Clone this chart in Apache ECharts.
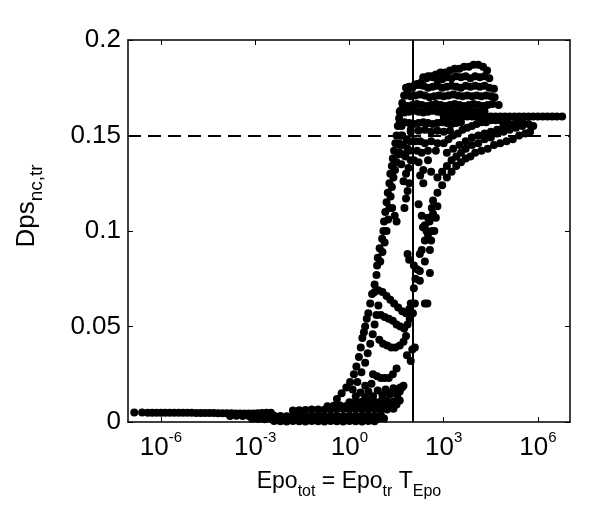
<!DOCTYPE html>
<html>
<head>
<meta charset="UTF-8">
<title>Dps vs Epo</title>
<script src="https://cdn.jsdelivr.net/npm/echarts@6.0.0/dist/echarts.min.js"></script>
<style>
  html, body {margin:0; padding:0; background:#fff}
  #chart {width:600px; height:520px}
</style>
</head>
<body>
<div id="chart"></div>
<script>
// x is log10(Epo_tot), y is Dps_nc,tr
var xTicks = [-6, -3, 0, 3, 6];
var yMin = 0, yMax = 0.2, yStep = 0.05;
var thresholdY = 0.15;      // dashed line
var thresholdX = 2;         // Epo_tot = 10^2, solid line

// flat tail at small Epo
var baseline = [
  [-6.85,.0050],[-6.6,.0050],[-6.42,.0049],[-6.28,.0049],[-6.14,.0049],[-6.0,.0049],[-5.86,.0049],
  [-5.72,.0048],[-5.58,.0048],[-5.44,.0048],[-5.3,.0048],[-5.16,.0048],[-5.02,.0048],[-4.88,.0047],
  [-4.74,.0047],[-4.6,.0047],[-4.46,.0047],[-4.32,.0047],[-4.18,.0046],[-4.04,.0046],[-3.9,.0046],
  [-3.76,.0046],[-3.62,.0045],[-3.48,.0045],[-3.34,.0045],[-3.2,.0045],[-3.06,.0045],[-2.92,.0046],
  [-2.78,.0047],[-2.64,.0048],[-2.5,.0049]
];

// thick band near zero before the rise
var lowBand = [
  [-3.8,.0032],[-3.6,.0033],[-3.4,.0031],[-3.2,.0032],[-3.0,.0030],[-2.8,.0032],[-2.6,.0031],[-2.4,.0033],
  [-2.2,.0032],[-2.0,.0030],[-1.8,.0032],[-1.6,.0033],[-1.4,.0031],[-1.2,.0032],[-1.0,.0034],[-0.8,.0031],
  [-0.6,.0033],[-0.4,.0032],[-0.2,.0030],[0.0,.0033],[0.2,.0032],[0.4,.0031],[0.6,.0034],[0.8,.0032],[1.0,.0035],
  [-3.1,.0017],[-2.9,.0016],[-2.7,.0015],[-2.5,.0017],[-2.3,.0016],[-2.1,.0014],[-1.9,.0016],[-1.7,.0017],
  [-1.5,.0015],[-1.3,.0016],[-1.1,.0017],[-0.9,.0015],[-0.7,.0016],[-0.5,.0014],[-0.3,.0016],[-0.1,.0017],
  [0.1,.0015],[0.3,.0016],[0.5,.0017],[0.7,.0015],[0.9,.0016],[1.1,.0018],
  [-2.4,.0005],[-2.2,.0004],[-2.0,.0003],[-1.8,.0005],[-1.6,.0004],[-1.4,.0003],[-1.2,.0005],[-1.0,.0004],
  [-0.8,.0003],[-0.6,.0005],[-0.4,.0004],[-0.2,.0003],[0.0,.0005],[0.2,.0004],[0.4,.0003],[0.6,.0005],[0.8,.0004],
  [-1.8,.0060],[-1.6,.0062],[-1.4,.0063],[-1.2,.0065],[-1.0,.0066],[-0.8,.0064],[-0.6,.0067],[-0.4,.0066],
  [-0.2,.0068],[0.0,.0065],[0.2,.0067],[0.4,.0066],[0.6,.0068],[0.8,.0065],[1.0,.0067],[1.2,.0066],[1.4,.0069],
  [-0.7,.0082],[-0.5,.0085],[-0.3,.0086],[-0.1,.0084],[0.1,.0087],[0.3,.0085],[0.5,.0088],[0.7,.0086],
  [0.9,.0084],[1.1,.0087],[1.3,.0088],[1.5,.0091],
  [0.0,.0104],[0.2,.0107],[0.4,.0106],[0.6,.0109],[0.8,.0105],[1.0,.0108],[1.2,.0110],[1.4,.0106],[1.6,.0112],
  [0.5,.013],[0.75,.0135],[1.05,.014],[1.3,.0145],[1.52,.014],[1.67,.018],[1.6,.016],[1.4,.0177],
  [0.2,.0135],[0.35,.0155],[0.6,.016],[0.9,.0165],[1.15,.017],[0.5,.019],[0.7,.020]
];

// steep rise left of the solid line
var riseMain = [
  [-0.4,.012],[-0.25,.015],[-0.1,.018],[0.02,.021],[0.14,.025],[0.22,.029],[0.3,.034],[0.36,.039],
  [0.41,.044],[0.46,.047],[0.5,.050],[0.55,.054],[0.6,.057],[0.66,.062],[0.72,.067],[0.8,.072],
  [0.86,.077],[0.88,.082],[0.9,.086],[0.96,.091],[1.04,.096],[1.08,.100],[1.1,.105],[1.14,.110],
  [1.18,.115],[1.22,.120],[1.27,.125],[1.3,.130],[1.35,.134],[1.38,.138],[1.42,.142],[1.46,.146],
  [1.5,.150],[1.54,.155],[1.58,.159],[1.62,.163],[1.68,.167],[1.74,.171],[1.8,.175],
  [0.1,.017],[0.25,.021],[0.38,.026],[0.5,.031],[0.58,.036],[0.66,.041],[0.74,.046],[0.8,.051],
  [0.86,.056],[0.92,.061],[1.36,.112],[1.44,.108],[1.5,.105],
  [0.98,.084],[1.05,.089],[1.12,.094],[1.18,.100],[1.23,.106],[1.27,.112],[1.31,.118],[1.35,.123],
  [1.4,.128],[1.45,.132],[1.5,.136],[1.55,.140],[1.6,.145],[1.64,.150],[1.66,.155]
];

// short branches running toward the solid line
var riseBranches = [
  [0.8,.068],[0.92,.069],[1.05,.068],[1.18,.066],[1.3,.064],[1.42,.062],[1.55,.060],[1.68,.058],[1.8,.057],[1.9,.059],[1.95,.062],
  [1.0,.056],[1.12,.055],[1.25,.054],[1.38,.053],[1.5,.051],[1.62,.050],[1.74,.049],[1.85,.051],[1.92,.054],
  [0.95,.043],[1.07,.041],[1.2,.040],[1.33,.039],[1.46,.039],[1.6,.040],[1.72,.042],[1.8,.045],
  [0.75,.025],[0.88,.024],[1.0,.023],[1.12,.023],[1.25,.023],[1.38,.025],[1.5,.028],
  [1.25,.015],[1.38,.016],[1.5,.017],[1.62,.018],[1.72,.019],
  [1.83,.035],[1.95,.032],[2.0,.038],[2.08,.039]
];

// points hugging the solid line
var nearLine = [
  [1.85,.088],[1.9,.085],[2.05,.082],[1.75,.112],[1.8,.117],[1.85,.121],[1.9,.125],[1.72,.126],
  [1.8,.130],[1.88,.133],[1.95,.137],[1.78,.139],[1.9,.142],[1.7,.145],[1.82,.148],[1.95,.152],
  [1.65,.135],[1.72,.140],[1.6,.141],[1.68,.150],[1.58,.146],[1.85,.143],[1.92,.147],
  [2.02,.057],[2.08,.062],[2.24,.074],[2.4,.062],[2.48,.062],[2.56,.078],[2.24,.079],[2.4,.084],
  [2.56,.090],[2.24,.088],[2.4,.095],[2.34,.102],[2.5,.107],[2.66,.109],[2.62,.100],
  [2.2,.114],[2.3,.108],[2.4,.103],[2.5,.098],[2.6,.095],[2.7,.100],[2.75,.107],[2.8,.113],
  [2.05,.070],[2.1,.075],[2.15,.080],[2.3,.090],[2.45,.100],[2.55,.105],[2.62,.112]
];

// slow rise right of the solid line
var rightRise = [
  [2.66,.116],[2.8,.120],[2.95,.124],[3.1,.128],[3.25,.131],[3.4,.134],[3.55,.136],[3.7,.138],
  [3.85,.139],[4.0,.141],[4.2,.142],[4.4,.143],[4.6,.145],[4.8,.146],[5.0,.147],[5.2,.148],
  [5.4,.150],[5.6,.151],[5.75,.152],
  [2.8,.128],[2.95,.131],[3.1,.134],[3.25,.137],[3.4,.139],[3.55,.141],[3.7,.143],[3.9,.145],
  [4.1,.146],[4.3,.148],[4.5,.149],[4.7,.151],[4.9,.152],[5.1,.153],[5.3,.154],[5.5,.155],
  [5.7,.156],[5.85,.155],
  [3.1,.141],[3.3,.143],[3.5,.145],[3.7,.147],[3.9,.149],[4.1,.150],[4.3,.151],[4.5,.152],
  [4.7,.153],[4.9,.155],[5.1,.156],[5.3,.157],[5.5,.158],
  [3.0,.146],[3.15,.148],[3.3,.150],[3.45,.151],[3.6,.153],[3.75,.154],[3.9,.155],[4.05,.156],
  [4.2,.157],[4.35,.157],[4.5,.158],[4.65,.158],[4.8,.158],[5.0,.158],
  [2.1,.147],[2.25,.147],[2.4,.146],[2.6,.147],[2.8,.146],[2.15,.142],[2.3,.141],[2.5,.142],
  [2.75,.142],[2.05,.137],[2.2,.136],[2.5,.137],[2.35,.132],[2.6,.131],[2.25,.129],[2.35,.125]
];

// upper cluster above the dashed line
var upperCluster = [
  [1.85,.172],[2.0,.175],[2.15,.177],[2.3,.178],[2.45,.180],[2.6,.181],[2.75,.182],[2.9,.183],
  [3.05,.183],[3.2,.184],[3.35,.185],[3.5,.185],[3.65,.186],[3.8,.186],[3.95,.187],[4.1,.187],
  [4.25,.186],[4.38,.184],
  [2.35,.1805],[2.5,.181],[2.65,.1805],[2.8,.179],[2.95,.1795],[3.1,.1805],[3.25,.180],[3.4,.181],
  [3.55,.1805],[3.7,.181],[3.85,.180],[4.0,.181],[4.15,.1805],[4.3,.181],[4.45,.180],
  [1.9,.1755],[2.05,.176],[2.2,.1765],[2.35,.176],[2.5,.175],[2.65,.1755],[2.8,.176],[2.95,.175],
  [3.1,.1755],[3.25,.176],[3.4,.1755],[3.55,.175],[3.7,.176],[3.85,.1755],[4.0,.176],[4.15,.1755],
  [4.3,.176],[4.45,.175],[4.6,.1745],
  [1.8,.171],[1.95,.1705],[2.1,.171],[2.25,.1715],[2.4,.171],[2.55,.170],[2.7,.1705],[2.85,.171],
  [3.0,.1705],[3.15,.171],[3.3,.1715],[3.45,.171],[3.6,.1705],[3.75,.171],[3.9,.1705],[4.05,.171],
  [4.2,.1705],[4.35,.171],[4.5,.1705],[4.62,.170],
  [1.7,.166],[1.85,.1655],[2.0,.166],[2.15,.1665],[2.3,.166],[2.45,.1655],[2.6,.166],[2.75,.1665],
  [2.9,.166],[3.05,.1655],[3.2,.166],[3.35,.1665],[3.5,.166],[3.65,.1655],[3.8,.166],[3.95,.1665],
  [4.1,.166],[4.25,.1655],[4.4,.166],[4.55,.1665],[4.75,.166],
  [1.6,.1625],[1.75,.162],[1.9,.1625],[2.05,.163],[2.2,.1625],[2.35,.162],[2.5,.1625],[2.65,.163],
  [2.8,.1625],[2.95,.162],[3.1,.1625],[3.25,.163],[3.4,.1625],[3.55,.162],[3.7,.1625],[3.85,.163],
  [4.0,.1625],[4.15,.162],[4.3,.1625],
  [1.6,.1565],[1.75,.157],[1.9,.1565],[2.05,.156],[2.2,.1565],[2.35,.157],[2.5,.1565],[2.65,.156],
  [2.8,.1565],[2.95,.157],[3.1,.1565],[3.25,.156],[3.4,.1565],[3.55,.157],
  [1.95,.153],[2.2,.1525],[2.4,.153],[2.6,.152],[2.8,.1525],[3.0,.152],[3.2,.1525]
];

// long flat run at the top right
var plateau = [
  [3.0,.160],[3.15,.160],[3.3,.160],[3.45,.160],[3.6,.160],[3.75,.160],[3.9,.160],[4.05,.160],
  [4.2,.160],[4.35,.160],[4.5,.160],[4.65,.160],[4.8,.160],[4.95,.160],[5.1,.160],[5.25,.160],
  [5.4,.160],[5.55,.160],[5.7,.160],[5.85,.160],[6.0,.160],[6.15,.160],[6.3,.160],[6.45,.160],
  [6.6,.160],[6.77,.160]
];

var groups = [baseline, lowBand, riseMain, riseBranches, nearLine, rightRise, upperCluster, plateau];

var FONT = '"Liberation Sans", Arial, Helvetica, sans-serif';

var chart = echarts.init(document.getElementById('chart'));

function dots(data) {
  return {
    type: 'scatter',
    data: data,
    symbol: 'circle',
    symbolSize: 8,
    itemStyle: {color: '#000', opacity: 1},
    silent: true
  };
}

var series = groups.map(dots);
series[0].markLine = {
  silent: true,
  symbol: 'none',
  label: {show: false},
  animation: false,
  data: [
    {yAxis: thresholdY, lineStyle: {color: '#000', width: 2.2, type: [13, 7]}},
    {xAxis: thresholdX, lineStyle: {color: '#000', width: 2, type: 'solid'}}
  ]
};

var axisLineStyle = {show: true, onZero: false, lineStyle: {color: '#000', width: 1.5}};

var option = {
  backgroundColor: '#fff',
  animation: false,
  grid: {left: 128, right: 30, top: 40, bottom: 98, containLabel: false},
  xAxis: [{
    type: 'value',
    min: -7.05,
    max: 7.02,
    axisLine: axisLineStyle,
    splitLine: {show: false},
    axisTick: {inside: true, length: 5, customValues: xTicks, lineStyle: {color: '#000', width: 1}},
    axisLabel: {
      customValues: xTicks,
      margin: 8,
      formatter: function (v) { return '{b|10}{s|' + v + '}'; },
      rich: {
        b: {fontSize: 26, fontFamily: FONT, color: '#000', lineHeight: 36},
        s: {fontSize: 15, fontFamily: FONT, color: '#000', lineHeight: 14, verticalAlign: 'top'}
      }
    },
    name: '{m|Epo}{u|tot}{m| = Epo}{u|tr}{m| T}{u|Epo}',
    nameLocation: 'middle',
    nameGap: 48,
    nameTextStyle: {
      rich: {
        m: {fontSize: 23, fontFamily: FONT, color: '#000', lineHeight: 16, verticalAlign: 'top'},
        u: {fontSize: 16, fontFamily: FONT, color: '#000', lineHeight: 44}
      }
    }
  }, {
    type: 'value',
    position: 'top',
    min: -7.05,
    max: 7.02,
    axisLine: axisLineStyle,
    splitLine: {show: false},
    axisTick: {inside: true, length: 5, customValues: xTicks, lineStyle: {color: '#000', width: 1}},
    axisLabel: {show: false}
  }],
  yAxis: [{
    type: 'value',
    min: yMin,
    max: yMax,
    interval: yStep,
    axisLine: axisLineStyle,
    splitLine: {show: false},
    axisTick: {inside: true, length: 5, lineStyle: {color: '#000', width: 1}},
    axisLabel: {color: '#000', fontSize: 26, fontFamily: FONT, margin: 7},
    name: '{m|Dps}{u|nc,tr}',
    nameLocation: 'middle',
    nameRotate: 90,
    nameGap: 68,
    nameTextStyle: {
      padding: [0, 0, 0, 50],
      rich: {
        m: {fontSize: 26, fontFamily: FONT, color: '#000', lineHeight: 20, verticalAlign: 'top'},
        u: {fontSize: 19, fontFamily: FONT, color: '#000', lineHeight: 46}
      }
    }
  }, {
    type: 'value',
    position: 'right',
    min: yMin,
    max: yMax,
    interval: yStep,
    axisLine: axisLineStyle,
    splitLine: {show: false},
    axisTick: {inside: true, length: 5, lineStyle: {color: '#000', width: 1}},
    axisLabel: {show: false}
  }],
  series: series
};

chart.setOption(option);
</script>
</body>
</html>
